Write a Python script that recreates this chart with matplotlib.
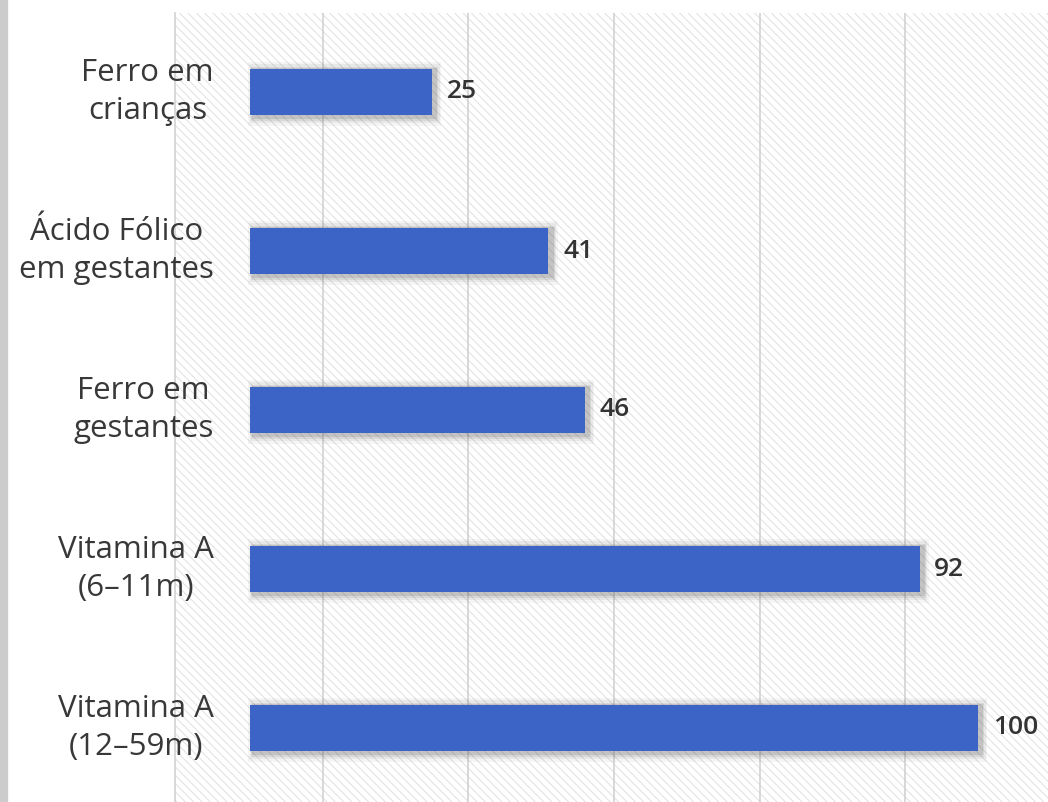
import matplotlib
matplotlib.use('Agg')
import matplotlib.pyplot as plt
from matplotlib.patches import Rectangle

categories = ['Ferro em\ncrianças', 'Ácido Fólico\nem gestantes', 'Ferro em\ngestantes',
              'Vitamina A\n(6–11m)', 'Vitamina A\n(12–59m)']
values = [25, 41, 46, 92, 100]

plt.rcParams['font.family'] = ['Open Sans', 'DejaVu Sans']
plt.rcParams['hatch.linewidth'] = 0.7

W, H = 1048, 802
fig = plt.figure(figsize=(W / 100, H / 100), dpi=100)
ax = fig.add_axes([175 / W, 0, 1 - 175 / W, 1 - 12.5 / H])

pos = list(range(len(categories)))
bar_h = 0.29

# hatched background of the plot area
ax.add_patch(Rectangle((0, 0), 1, 1, transform=ax.transAxes, facecolor='white',
                       edgecolor='#e0e0e0', hatch='\\\\\\\\', linewidth=0, zorder=0))

# soft shadow round the bars
for grow, a in [(0.11, 0.05), (0.08, 0.07), (0.05, 0.10), (0.03, 0.14)]:
    ax.barh([p + 0.012 for p in pos], [v + 2 * grow * 7 for v in values], height=bar_h + grow,
            left=-grow * 7 + 0.5, color='#4a4a4a', alpha=a, zorder=2, linewidth=0)
ax.barh(pos, values, height=bar_h, color='#3b64c6', zorder=3, linewidth=0)

for y, v in zip(pos, values):
    ax.text(v + 2.0, y, str(v), va='center', ha='left', fontsize=19,
            fontweight='semibold', color='#333333', zorder=4)
    ax.text(-5.0, y, categories[y], va='center', ha='right', multialignment='center',
            fontsize=22.5, color='#383838', linespacing=1.38, zorder=4)

ax.set_xlim(-10.3, (W - 250) / 7.28)
ax.set_ylim(4.5 - 5.5 / 159, -0.5)
ax.set_xticks([10, 30, 50, 70, 90])
ax.tick_params(left=False, bottom=False, labelleft=False, labelbottom=False)
ax.grid(axis='x', color='#d2d2d2', linewidth=1.2, zorder=1)
for s in ['top', 'right', 'bottom']:
    ax.spines[s].set_visible(False)
ax.spines['left'].set_color('#d2d2d2')
ax.spines['left'].set_linewidth(1.2)
ax.patch.set_visible(False)

# grey strip at the left edge
fig.patches.append(Rectangle((0, 0), 7 / W, 1, transform=fig.transFigure,
                             color='#cccccc', zorder=0))

fig.savefig('out.png', dpi=100)
